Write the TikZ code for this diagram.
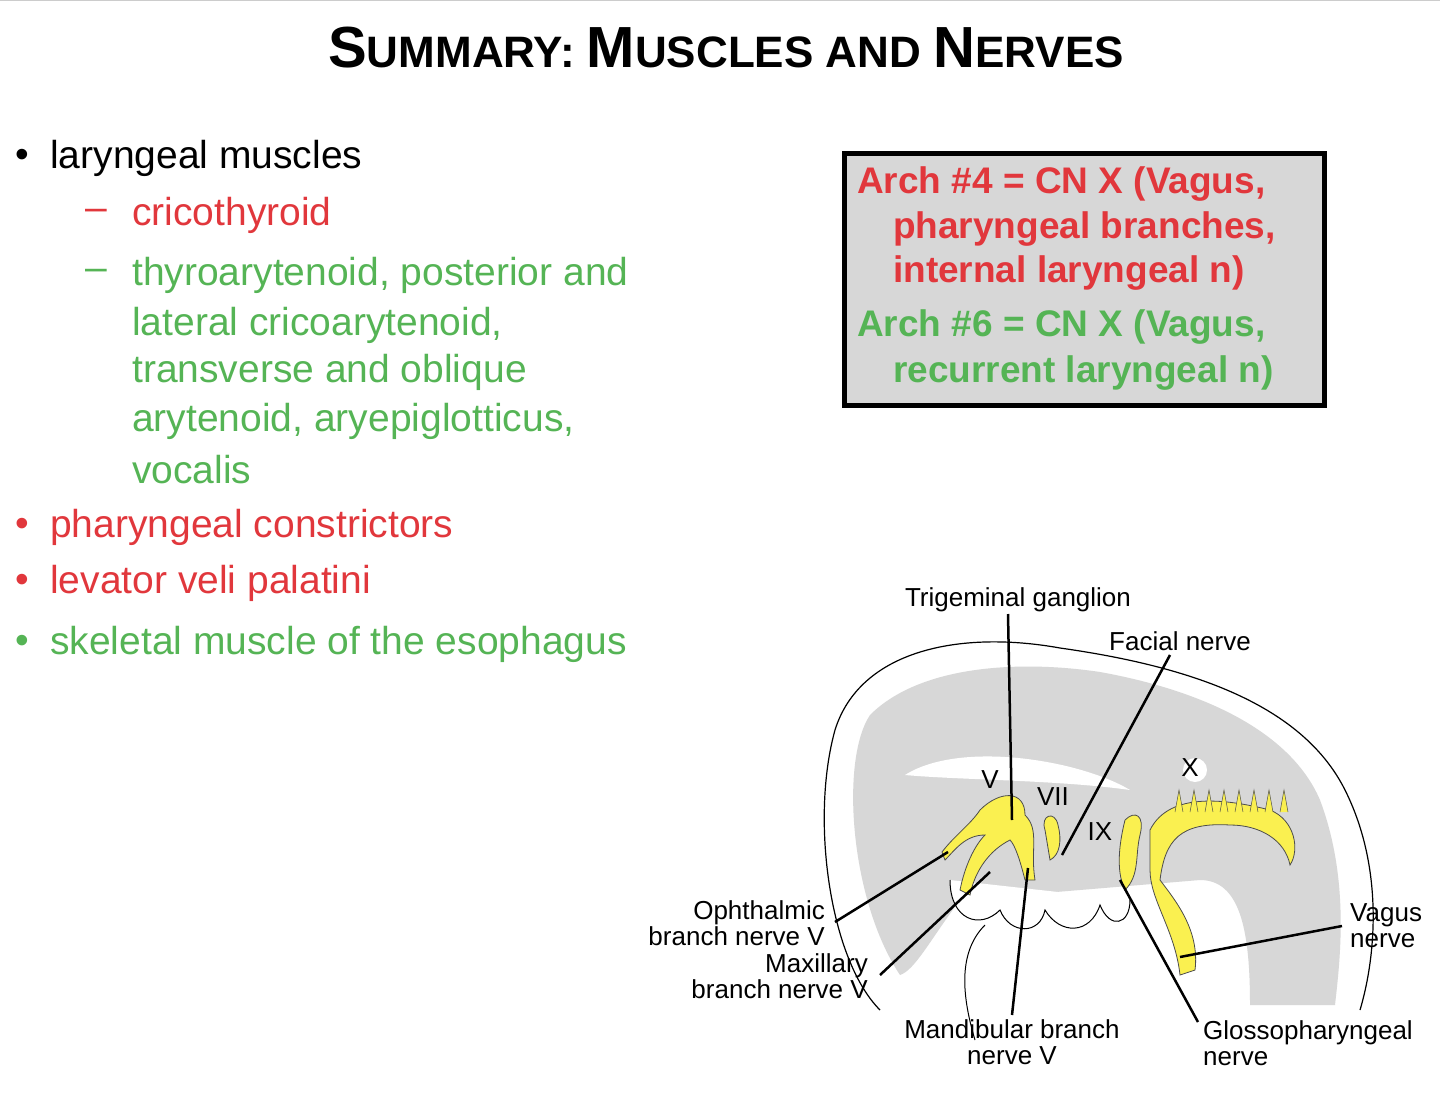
\documentclass[tikz,border=0pt]{standalone}
\usepackage{fontspec}
\setmainfont{Liberation Sans}
\definecolor{rd}{RGB}{225,55,60}
\definecolor{gn}{RGB}{85,180,85}
\definecolor{gy}{RGB}{215,215,215}
\definecolor{yl}{RGB}{250,240,80}
\begin{document}
\begin{tikzpicture}[x=1pt,y=-1pt,
  txt/.style={anchor=west,inner sep=0,font=\fontsize{39}{48}\selectfont},
  lbl/.style={inner sep=0,font=\fontsize{26}{26}\selectfont,align=center},
  lead/.style={line width=2.5pt},
  nerve/.style={fill=yl,draw=black!70,line width=0.8pt}]
\useasboundingbox (0,0) rectangle (1440,1094);
\draw[gray!40,line width=1pt] (0,1) -- (1440,1);
\node[inner sep=0,font=\bfseries] (title) at (726,48)
 {\fontsize{58}{60}\selectfont S\fontsize{44}{50}\selectfont UMMARY: \fontsize{58}{60}\selectfont M\fontsize{44}{50}\selectfont USCLES AND \fontsize{58}{60}\selectfont N\fontsize{44}{50}\selectfont ERVES};
% bullets
\node[txt] (b1) at (15,158) {•};
\node[txt] (t1) at (50,158) {laryngeal muscles};
\node[txt,rd] (d1) at (85,215) {–};
\node[txt,rd] (t2) at (132,215) {cricothyroid};
\node[txt,gn] (d2) at (85,275) {–};
\node[txt,gn] (t3a) at (132,275) {thyroarytenoid, posterior and};
\node[txt,gn] (t3b) at (132,325) {lateral cricoarytenoid,};
\node[txt,gn] (t3c) at (132,372) {transverse and oblique};
\node[txt,gn] (t3d) at (132,421) {arytenoid, aryepiglotticus,};
\node[txt,gn] (t3e) at (132,470) {vocalis};
\node[txt,rd] (b2) at (15,527) {•};
\node[txt,rd] (t4) at (50,527) {pharyngeal constrictors};
\node[txt,rd] (b3) at (15,583) {•};
\node[txt,rd] (t5) at (50,583) {levator veli palatini};
\node[txt,gn] (b4) at (15,644) {•};
\node[txt,gn] (t6) at (50,644) {skeletal muscle of the esophagus};
% box
\node[draw=black,line width=5pt,fill=gy,minimum width=480,minimum height=252,anchor=north west] (box) at (842,151) {};
\node[anchor=north west,inner sep=0,align=left,font=\bfseries\fontsize{37}{44}\selectfont] (bt) at (857,166)
 {\textcolor{rd}{Arch \#4 = CN X (Vagus,}\\[1pt]
  \textcolor{rd}{\hspace{36pt}pharyngeal branches,}\\[0pt]
  \textcolor{rd}{\hspace{36pt}internal laryngeal n)}\\[10pt]
  \textcolor{gn}{Arch \#6 = CN X (Vagus,}\\[2pt]
  \textcolor{gn}{\hspace{36pt}recurrent laryngeal n)}};
% embryo
\draw[fill=white,line width=1.2pt] (880,1010) .. controls (830,960) and (810,820) .. (835,730)
  .. controls (860,650) and (960,630) .. (1060,648) .. controls (1180,665) and (1300,700) .. (1345,790)
  .. controls (1385,870) and (1375,960) .. (1360,1010);
\fill[gy] (900,975) .. controls (850,900) and (840,760) .. (870,715)
  .. controls (920,665) and (1020,660) .. (1100,672) .. controls (1200,690) and (1290,730) .. (1320,800)
  .. controls (1350,880) and (1340,960) .. (1335,1005) -- (1250,1005)
  .. controls (1250,930) and (1240,880) .. (1200,880) -- (960,900) .. controls (930,940) and (915,970) .. (900,975);
\fill[white] (905,775) .. controls (960,740) and (1080,760) .. (1130,790) .. controls (1060,780) and (960,780) .. (905,775);
\fill[white] (1195,770) ellipse (12 and 12);
\draw[fill=white,line width=1pt] (950,880) .. controls (950,920) and (980,930) .. (1000,910)
  .. controls (1010,935) and (1040,935) .. (1045,910) .. controls (1060,935) and (1090,935) .. (1100,905)
  .. controls (1110,930) and (1130,925) .. (1130,900);
\draw[line width=1pt] (975,1040) .. controls (960,990) and (960,950) .. (985,925);
% nerves
\draw[nerve] (980,810) .. controls (1000,790) and (1025,790) .. (1025,815)
  .. controls (1040,830) and (1030,850) .. (1035,880) -- (1025,880) .. controls (1020,860) and (1015,845) .. (1010,840)
  .. controls (990,850) and (975,870) .. (970,895) -- (960,890) .. controls (965,865) and (975,845) .. (985,835)
  .. controls (965,835) and (955,850) .. (945,860) -- (942,852) .. controls (955,835) and (970,825) .. (980,810);
\draw[nerve] (1045,830) .. controls (1040,815) and (1055,810) .. (1058,825) .. controls (1062,840) and (1060,855) .. (1050,860) -- (1045,830);
\draw[nerve] (1125,820) .. controls (1135,810) and (1145,815) .. (1140,835) .. controls (1135,855) and (1140,875) .. (1125,890)
  .. controls (1115,870) and (1120,840) .. (1125,820);
\draw[nerve] (1150,830) .. controls (1170,790) and (1230,800) .. (1270,810) .. controls (1295,820) and (1300,850) .. (1290,865)
  .. controls (1285,840) and (1260,825) .. (1230,825) .. controls (1180,822) and (1165,840) .. (1160,880)
  .. controls (1175,900) and (1200,930) .. (1195,970) -- (1180,975) .. controls (1175,930) and (1150,900) .. (1150,870) -- (1150,830);
\foreach \x in {1175,1190,1205,1220,1235,1250,1265,1280} \draw[nerve,line width=0.5pt] (\x,812) -- (\x+4,790) -- (\x+8,812);
% roman labels
\node[lbl] (rV) at (990,780) {V};
\node[lbl] (rVII) at (1053,797) {VII};
\node[lbl] (rIX) at (1100,832) {IX};
\node[lbl] (rX) at (1190,768) {X};
% labels
\node[lbl] (tg) at (1018,600) {Trigeminal ganglion};
\node[lbl] (fn) at (1180,641) {Facial nerve};
\node[lbl,align=right,anchor=east] (op) at (825,923) {Ophthalmic\\branch nerve V};
\node[lbl,align=right,anchor=east] (mx) at (868,976) {Maxillary\\branch nerve V};
\node[lbl] (md) at (1012,1042) {Mandibular branch\\nerve V};
\node[lbl,align=left,anchor=west] (gp) at (1203,1043) {Glossopharyngeal\\nerve};
\node[lbl,align=left,anchor=west] (vg) at (1350,926) {Vagus\\nerve};
\coordinate (tgE) at (1012,820);
\coordinate (fnE) at (1062,855);
\coordinate (opE) at (948,852);
\coordinate (mxE) at (990,872);
\coordinate (mdE) at (1028,868);
\coordinate (gpE) at (1120,880);
\coordinate (vgE) at (1180,957);
\draw[lead] (1008,614) -- (tgE);
\draw[lead] (1170,655) -- (fnE);
\draw[lead] (835,922) -- (opE);
\draw[lead] (880,975) -- (mxE);
\draw[lead] (1012,1015) -- (mdE);
\draw[lead] (1198,1022) -- (gpE);
\draw[lead] (1342,926) -- (vgE);
\end{tikzpicture}
\end{document}
